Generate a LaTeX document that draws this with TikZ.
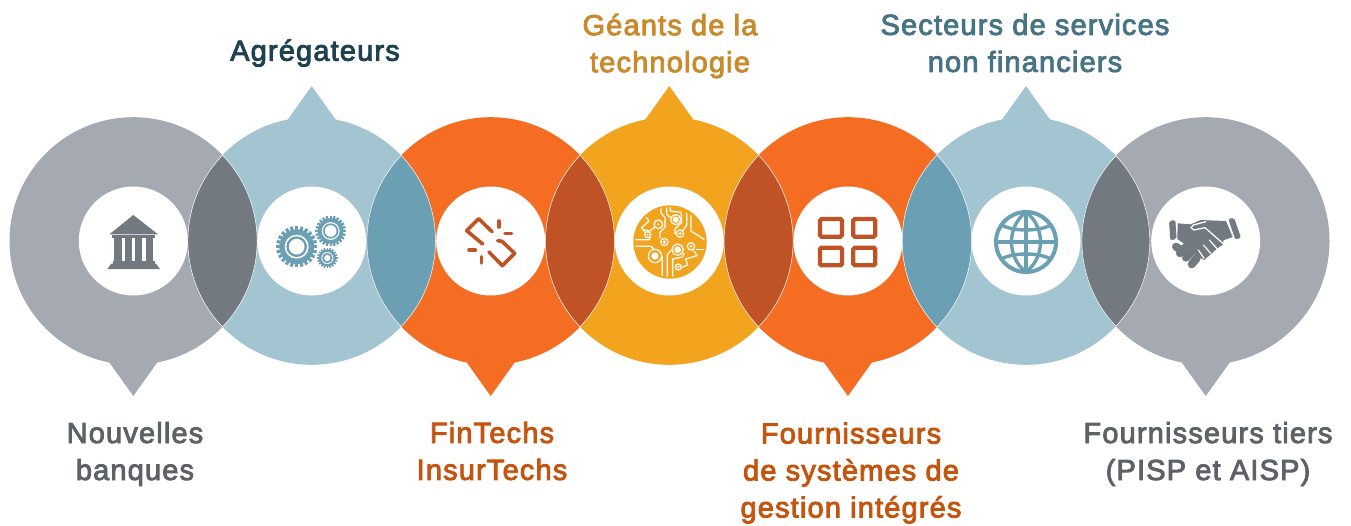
\documentclass[tikz,border=0pt]{standalone}
\usepackage{fontspec}
\setmainfont{Liberation Sans}[LetterSpace=4,FakeBold=3]
\definecolor{cgray}{HTML}{A5A9B1}
\definecolor{cblue}{HTML}{A3C4D1}
\definecolor{corange}{HTML}{F46D22}
\definecolor{cyellow}{HTML}{F2A41F}
\definecolor{lgray}{HTML}{737980}
\definecolor{lblue}{HTML}{6B9FB4}
\definecolor{lorange}{HTML}{BF5325}
\definecolor{tgray}{HTML}{5E6266}
\definecolor{tdark}{HTML}{1F4250}
\definecolor{tyellow}{HTML}{C98A2C}
\definecolor{tteal}{HTML}{467484}
\definecolor{torange}{HTML}{C4550F}
\tikzset{
  lab/.style={align=center,inner sep=0pt,font=\fontsize{29}{37}\selectfont},
  hub/.style={fill=white,draw=none},
  seam/.style={draw=white,line width=0.5pt},
  trace/.style={draw=white,line width=1.2pt,line join=round},
  linkline/.style={draw=lorange,line width=3.6pt,line cap=round,line join=round},
  gridcell/.style={draw=lorange,line width=4.2pt,rounded corners=1.5pt},
  globeline/.style={draw=lblue,line width=3.4pt},
}
\newcommand{\bubble}[3]{% x, colour, direction (+1 tip down, -1 tip up)
  \fill[#2] (#1,241) circle[radius=123.8];
  \fill[#2] ({#1-25},{241+#3*120}) -- (#1,{241+#3*155}) -- ({#1+25},{241+#3*120}) -- cycle;
}
\newcommand{\lens}[3]{% x1, x2, colour
  \begin{scope}
    \clip (#1,241) circle[radius=123.8];
    \fill[#3] (#2,241) circle[radius=123.8];
    \draw[seam] (#2,241) circle[radius=123.8];
  \end{scope}
  \begin{scope}
    \clip (#2,241) circle[radius=123.8];
    \draw[seam] (#1,241) circle[radius=123.8];
  \end{scope}
}
\newcommand{\geartool}[5]{% x,y,r,teeth,holefactor
  \begin{scope}[shift={(#1,#2)}]
    \foreach \k in {1,...,#4}{
      \fill[lblue,rotate={\k*360/#4}] ({-#3*0.075},{#3*0.7}) rectangle ({#3*0.075},#3);
    }
    \fill[lblue] (0,0) circle[radius={#3*0.84}];
    \fill[white] (0,0) circle[radius={#3*0.58}];
    \fill[lblue] (0,0) circle[radius={#3*0.5}];
    \fill[white] (0,0) circle[radius={#3*#5}];
  \end{scope}
}
\begin{document}
\begin{tikzpicture}[x=1pt,y=-1pt]
\useasboundingbox (0,0) rectangle (1351,525);
\fill[white] (0,0) rectangle (1351,525);
\bubble{133.3}{cgray}{1}
\bubble{311.7}{cblue}{-1}
\bubble{490.7}{corange}{1}
\bubble{669.3}{cyellow}{-1}
\bubble{847.9}{corange}{1}
\bubble{1026}{cblue}{-1}
\bubble{1205.7}{cgray}{1}
\lens{133.3}{311.7}{lgray}
\lens{311.7}{490.7}{lblue}
\lens{490.7}{669.3}{lorange}
\lens{669.3}{847.9}{lorange}
\lens{847.9}{1026}{lblue}
\lens{1026}{1205.7}{lgray}
\foreach \cx in {133.3,311.7,490.7,669.3,847.9,1026,1205.7}
  \fill[hub] (\cx,241) circle[radius=54.5];

% bank
\begin{scope}[shift={(60,170)},scale=1/3]
  \fill[lgray] (220,135) -- (294,193) -- (148,193) -- cycle;
  \fill[lgray] (155,196) rectangle (286,204);
  \foreach \a/\b in {162/185,195/215,226/246,259/280}
    \fill[lgray] (\a,204) rectangle (\b,273);
  \fill[lgray] (158,273) rectangle (284,281);
  \fill[lgray] (154,281) -- (288,281) -- (300,297) -- (142,297) -- cycle;
\end{scope}
% gears
\begin{scope}[shift={(270,210)},scale=1/3]
  \geartool{80}{110}{62}{24}{0.38}
  \geartool{182}{63}{46}{24}{0.38}
  \geartool{172}{144}{31}{20}{0.3}
\end{scope}
% broken link
\begin{scope}[shift={(420,170)},scale=1/3]
  \draw[linkline] (216,185) -- (176,146) -- (140,182) -- (188,222);
  \draw[linkline] (233,212) -- (246,214) -- (284,250) -- (247,287) -- (207,246);
  \draw[linkline] (237,153) -- (237,171);
  \draw[linkline] (255,190) -- (275,190);
  \draw[linkline] (147,240) -- (166,240);
  \draw[linkline] (185,260) -- (185,279);
\end{scope}
% circuit disc
\begin{scope}[shift={(625,197)},scale=1/3]
  \fill[cyellow] (135,135) circle[radius=110];
  \begin{scope}
  \clip (135,135) circle[radius=104];
  \draw[trace] (88,38) -- (60,58) -- (72,72) -- (50,92) -- (60,106);
  \draw[trace] (92,88) -- (75,102) -- (55,98);
  \draw[trace] (25,128) -- (72,128) -- (76,120);
  \draw[trace] (125,25) -- (125,52) -- (142,66);
  \draw[trace] (136,25) -- (136,42) -- (168,46) -- (170,76) -- (150,96) -- (150,112);
  \draw[trace] (108,28) -- (108,48) -- (120,62) -- (120,90) -- (105,106) -- (105,124);
  \draw[trace] (185,48) -- (185,85) -- (172,102);
  \draw[trace] (198,55) -- (198,102) -- (245,132);
  \draw[trace] (25,148) -- (78,148) -- (112,180) -- (112,245);
  \draw[trace] (127,245) -- (127,172) -- (146,152);
  \draw[trace] (143,245) -- (143,186) -- (172,180) -- (178,168);
  \draw[trace] (168,212) -- (188,204) -- (182,186) -- (216,176) -- (202,155);
  \draw[trace] (212,158) -- (245,158);
  \end{scope}
  \foreach \x/\y/\r in {100/82/13,68/113/9,165/110/11,198/148/11,160/210/9,118/135/11}{
    \fill[cyellow] (\x,\y) circle[radius=\r+2];
    \draw[white,line width=1.2pt] (\x,\y) circle[radius=\r];
  }
  \foreach \x/\y/\r in {118/135/5,165/110/5,68/113/3,160/210/4,100/82/3,198/148/4}
    \fill[white] (\x,\y) circle[radius=\r];
  \foreach \x/\y/\ro/\ri in {152/68/15/9,90/177/20/11,158/158/17/10}{
    \fill[cyellow] (\x,\y) circle[radius=\ro+2];
    \draw[white,line width=1.2pt] (\x,\y) circle[radius=\ro];
    \fill[white] (\x,\y) circle[radius=\ri];
  }
\end{scope}
% grid
\begin{scope}[shift={(780,170)},scale=1/3]
  \foreach \a/\b in {120/147,220/147,120/233,220/233}
    \draw[gridcell] (\a,\b) rectangle ++(66,53);
\end{scope}
% globe
\begin{scope}[shift={(780,170)},scale=1/3]
  \draw[globeline,line width=4pt] (738,216) circle[radius=90];
  \draw[globeline] (738,126) -- (738,306);
  \draw[globeline] (738,126) .. controls (680,170) and (680,262) .. (738,306);
  \draw[globeline] (738,126) .. controls (796,170) and (796,262) .. (738,306);
  \draw[globeline] (648,216) -- (828,216);
  \draw[globeline] (664,165) .. controls (700,185) and (776,185) .. (812,165);
  \draw[globeline] (664,267) .. controls (700,247) and (776,247) .. (812,267);
\end{scope}
% handshake
\begin{scope}[shift={(1160,205)},scale=1/3]
  \fill[lgray,rounded corners=2pt] (27,48) -- (46,45) -- (50,102) -- (31,106) -- cycle;
  \fill[lgray,rounded corners=2pt] (205,42) -- (222,38) -- (243,98) -- (226,104) -- cycle;
  \fill[lgray] (53,55) -- (92,58) -- (122,45) -- (198,48) -- (218,96) -- (190,106) -- (190,118)
    -- (172,130) -- (150,150) -- (132,165) -- (105,150) -- (85,125) -- (52,102) -- cycle;
  \draw[white,line width=1.3pt,line cap=round,line join=round]
    (137,50) -- (100,60) -- (93,68) -- (102,75) -- (135,68) -- (192,118);
  \draw[white,line width=1.2pt,line cap=round] (148,105) -- (170,130);
  \draw[white,line width=1.2pt,line cap=round] (130,120) -- (152,145);
  \draw[white,line width=1.2pt,line cap=round] (115,135) -- (132,160);
  \draw[lgray,line width=8pt,line cap=round] (48,125) -- (62,135);
  \draw[lgray,line width=8pt,line cap=round] (60,145) -- (78,125);
  \draw[lgray,line width=8pt,line cap=round] (78,158) -- (95,140);
  \draw[lgray,line width=8pt,line cap=round] (95,178) -- (110,160);
\end{scope}

\node[lab,text=tgray] (nb) at (135,454) {Nouvelles\\banques};
\node[lab,text=tdark] (ag) at (315,53) {Agrégateurs};
\node[lab,text=torange] (ft) at (492,451) {FinTechs\\InsurTechs};
\node[lab,text=tyellow] (ge) at (670,46) {Géants de la\\technologie};
\node[lab,text=torange] (fo) at (851,473) {Fournisseurs\\de systèmes de\\gestion intégrés};
\node[lab,text=tteal] (se) at (1025,43) {Secteurs de services\\non financiers};
\node[lab,text=tgray] (ti) at (1208,454) {Fournisseurs tiers\\(PISP et AISP)};
\end{tikzpicture}
\end{document}
